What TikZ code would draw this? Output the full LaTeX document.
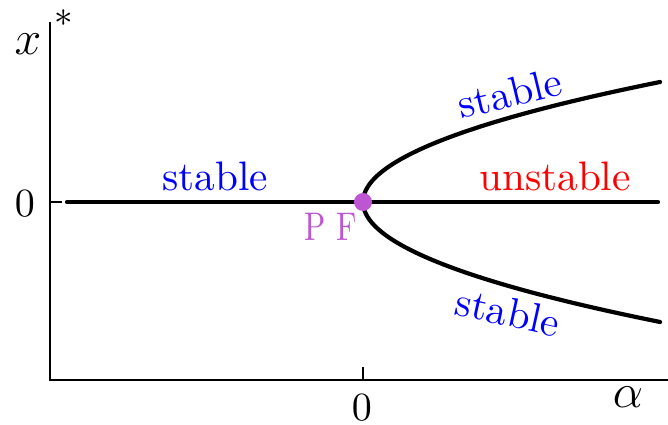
\documentclass[tikz,border=0pt]{standalone}
\usepackage{graphicx}
\definecolor{pfpurple}{RGB}{190,85,210}
\begin{document}
\begin{tikzpicture}[x=0.25pt,y=-0.25pt,
  axis/.style={line width=0.5pt},
  branch/.style={line width=1.05pt, line cap=round},
  lab/.style={inner sep=0pt},
  stab/.style={lab, text=blue, font=\fontsize{10.3pt}{12pt}\selectfont},
  unstab/.style={lab, text=red, font=\fontsize{10.3pt}{12pt}\selectfont}]
\useasboundingbox (0,0) rectangle (668,425);
% axes
\coordinate (ytop) at (50,22);
\coordinate (orig) at (50,380);
\coordinate (xend) at (668,380);
\draw[axis] (ytop) -- (orig) -- (xend);
\coordinate (yt1) at (50,202);
\coordinate (yt2) at (62,202);
\draw[axis] (yt1) -- (yt2);
\coordinate (xt1) at (363,380);
\coordinate (xt2) at (363,367);
\draw[axis] (xt1) -- (xt2);
% axis labels
\node[lab] (xlab) at (28,44) {\large $x$};
\node[lab] (star) at (64,18) {\fontsize{9.5pt}{11pt}\selectfont $*$};
\node[lab] (alab) at (628,397) {\large $\alpha$};
\node[lab] (y0) at (25,204) {$0$};
\node[lab] (x0) at (362,408) {$0$};
% branches
\coordinate (hs) at (67,202);
\coordinate (he) at (658,202);
\draw[branch] (hs) -- (he);
\draw[branch] plot[domain=-120:120, samples=81, smooth] ({363+0.020625*\x*\x},{202-\x});
% PF point
\node[circle, fill=pfpurple, minimum size=4.5pt, inner sep=0pt] (pf) at (363,202) {};
\node[lab, text=pfpurple] (pflab) at (331,227) {\scalebox{0.78}[1]{P F}};
% stability labels
\node[stab, anchor=base] (s1) at (215,191) {stable};
\node[unstab, anchor=base] (u1) at (555,191) {unstable};
\node[stab, rotate=13.5] (s2) at (510,93) {stable};
\node[stab, rotate=-12.5] (s3) at (508,312) {stable};
\end{tikzpicture}
\end{document}
